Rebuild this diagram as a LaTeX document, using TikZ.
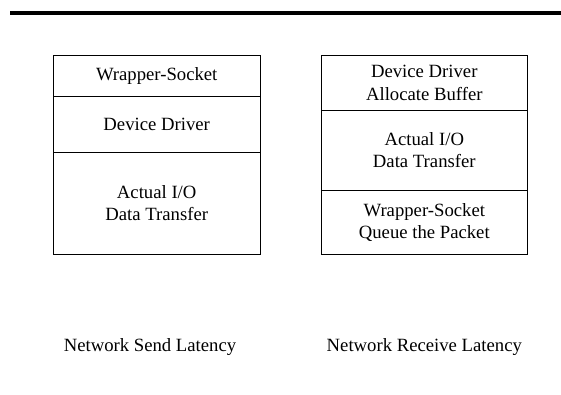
\documentclass[tikz,border=0pt]{standalone}
\usepackage{fontspec}
\setmainfont{Liberation Serif}
\begin{document}
\begin{tikzpicture}[x=1pt,y=-1pt,
  cell/.style={draw=black, line width=0.9pt, minimum width=206.7pt, inner sep=0pt,
               align=center, font=\fontsize{18.7}{22.2}\selectfont},
  caption/.style={font=\fontsize{18.7}{22.2}\selectfont, inner sep=0pt}]
\useasboundingbox (0,0) rectangle (561,394);
% rule across the top
\draw[line width=4pt] (10,13) -- (561,13);
% send path
\node[cell, minimum height=41pt]  (s1) at (156.7,75.5)  {Wrapper-Socket};
\node[cell, minimum height=56.3pt] (s2) at (156.7,124.2) {Device Driver};
\node[cell, minimum height=102pt] (s3) at (156.7,203.3) {Actual I/O\\Data Transfer};
% receive path
\node[cell, minimum height=55.7pt] (r1) at (424.3,82.8)  {Device Driver\\Allocate Buffer};
\node[cell, minimum height=79.3pt] (r2) at (424.3,150.3) {Actual I/O\\Data Transfer};
\node[cell, minimum height=64.3pt] (r3) at (424.3,222.2) {Wrapper-Socket\\Queue the Packet};
% captions
\node[caption] (cs) at (150,347) {Network Send Latency};
\node[caption] (cr) at (424.3,347) {Network Receive Latency};
\end{tikzpicture}
\end{document}
